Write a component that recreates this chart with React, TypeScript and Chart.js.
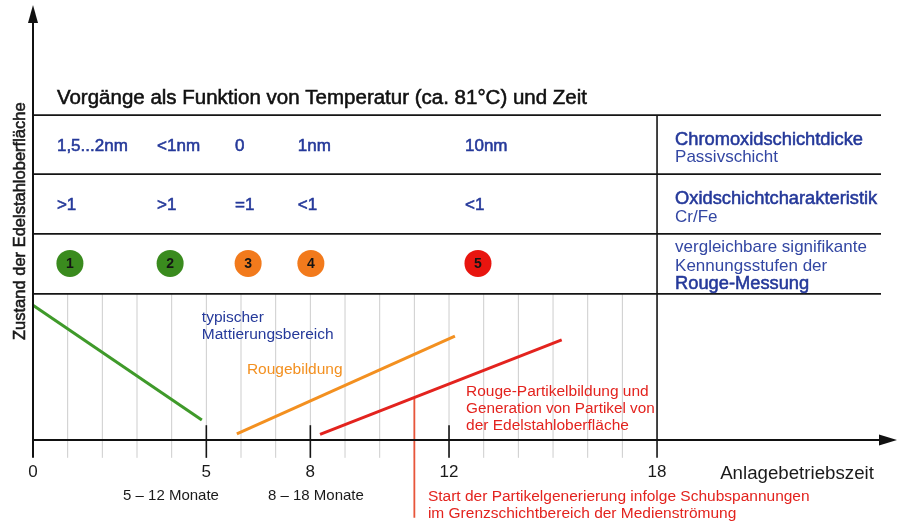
import React, { useEffect, useRef } from "react";
import { Chart, registerables } from "chart.js";

Chart.register(...registerables);

const W = 901;
const H = 524;
const FONT = '"Liberation Sans", Arial, Helvetica, sans-serif';

// ---------- data ----------
const timeTicks = [0, 5, 8, 12, 18];
const timeTickLabels = ["0", "5", "8", "12", "18"];
const gridMonths = [1, 2, 3, 4, 5, 6, 7, 8, 9, 10, 11, 12, 13, 14, 15, 16, 17];
const markedTicks = [5, 8, 12];

const stageColumns = [0.69, 3.58, 5.83, 7.64, 12.46];
const chromoxidThickness = ["1,5...2nm", "<1nm", "0", "1nm", "10nm"];
const crFeRatio = [">1", ">1", "=1", "<1", "<1"];
const rougeStages = ["1", "2", "3", "4", "5"];
const stageColors = ["#3a8b1e", "#3a8b1e", "#f27a1c", "#f27a1c", "#e8150f"];

const mattierungX = [0, 4.87];
const mattierungY = [31.0, 4.6];
const rougeX = [5.88, 12.17];
const rougeY = [1.4, 23.9];
const partikelX = [8.28, 15.25];
const partikelY = [1.3, 23.0];
const startX = [11, 11];
const startY = [9.6, -17.9];

const rowLines = [74.7, 61.1, 47.4, 33.6];

const toPts = (xs: number[], ys: number[]) => xs.map((x, i) => ({ x, y: ys[i] }));

// ---------- styles ----------
const BLUE = "#25399a";
const BLUE_LIGHT = "#3347a3";
const RED = "#e3231e";
const ORANGE = "#f39020";
const GREEN = "#3f9a2a";

function txt(
  ctx: CanvasRenderingContext2D,
  s: string,
  x: number,
  y: number,
  size: number,
  color: string,
  align: CanvasTextAlign = "left",
  medium = false
) {
  ctx.save();
  ctx.font = `${size}px ${FONT}`;
  ctx.fillStyle = color;
  ctx.textAlign = align;
  ctx.textBaseline = "middle";
  ctx.fillText(s, x, y);
  if (medium) {
    ctx.strokeStyle = color;
    ctx.lineWidth = 0.55;
    ctx.strokeText(s, x, y);
  }
  ctx.restore();
}

function line(ctx: CanvasRenderingContext2D, x1: number, y1: number, x2: number, y2: number, color: string, w: number) {
  ctx.save();
  ctx.strokeStyle = color;
  ctx.lineWidth = w;
  ctx.beginPath();
  ctx.moveTo(x1, y1);
  ctx.lineTo(x2, y2);
  ctx.stroke();
  ctx.restore();
}

const diagramPlugin = {
  id: "diagram",
  beforeDraw(chart: any) {
    const ctx = chart.ctx;
    ctx.save();
    ctx.fillStyle = "#ffffff";
    ctx.fillRect(0, 0, chart.width, chart.height);
    ctx.restore();
  },
  beforeDatasetsDraw(chart: any) {
    const ctx: CanvasRenderingContext2D = chart.ctx;
    const xs = chart.scales.x;
    const ys = chart.scales.y;
    const X = (v: number) => xs.getPixelForValue(v);
    const Y = (v: number) => ys.getPixelForValue(v);
    const area = chart.chartArea;

    gridMonths.forEach((m) => line(ctx, X(m), Y(rowLines[3]), X(m), Y(-4.1), "#cdcdcd", 1));
    rowLines.forEach((r) => line(ctx, X(0), Y(r), area.right, Y(r), "#151515", 1.8));
    line(ctx, X(18), Y(rowLines[0]), X(18), Y(-4.1), "#151515", 1.6);
    markedTicks.forEach((m) => line(ctx, X(m), Y(3.4), X(m), Y(-4.1), "#151515", 1.6));
  },
  afterDatasetsDraw(chart: any) {
    const ctx: CanvasRenderingContext2D = chart.ctx;
    const xs = chart.scales.x;
    const ys = chart.scales.y;
    const X = (v: number) => xs.getPixelForValue(v);
    const Y = (v: number) => ys.getPixelForValue(v);
    const area = chart.chartArea;

    // axes
    const x0 = X(0);
    const y0 = Y(0);
    line(ctx, x0, Y(-4.1), x0, area.top + 16, "#111", 2);
    line(ctx, x0, y0, area.right, y0, "#111", 2);
    ctx.save();
    ctx.fillStyle = "#111";
    ctx.beginPath();
    ctx.moveTo(x0, area.top);
    ctx.lineTo(x0 - 5, area.top + 18);
    ctx.lineTo(x0 + 5, area.top + 18);
    ctx.closePath();
    ctx.fill();
    ctx.beginPath();
    ctx.moveTo(area.right + 16, y0);
    ctx.lineTo(area.right - 2, y0 - 5.5);
    ctx.lineTo(area.right - 2, y0 + 5.5);
    ctx.closePath();
    ctx.fill();
    ctx.restore();

    // title
    txt(ctx, "Vorgänge als Funktion von Temperatur (ca. 81°C) und Zeit", X(0.69), Y(78.6), 20.5, "#111", "left", true);

    // rows
    chromoxidThickness.forEach((s, i) => txt(ctx, s, X(stageColumns[i]), Y(67.6), 17, BLUE, "left", true));
    crFeRatio.forEach((s, i) => txt(ctx, s, X(stageColumns[i]), Y(53.9), 17, BLUE, "left", true));
    rougeStages.forEach((s, i) => {
      const cx = X(stageColumns[i]) + 13;
      const cy = Y(40.6);
      ctx.save();
      ctx.fillStyle = stageColors[i];
      ctx.beginPath();
      ctx.arc(cx, cy, 13.5, 0, Math.PI * 2);
      ctx.fill();
      ctx.restore();
      ctx.save();
      ctx.font = `bold 14px ${FONT}`;
      ctx.fillStyle = "#141414";
      ctx.textAlign = "center";
      ctx.textBaseline = "middle";
      ctx.fillText(s, cx, cy + 1);
      ctx.restore();
    });

    // right column
    const rx = X(18.52);
    txt(ctx, "Chromoxidschichtdicke", rx, Y(69.0), 18.3, BLUE, "left", true);
    txt(ctx, "Passivschicht", rx, Y(65.1), 17, BLUE_LIGHT);
    txt(ctx, "Oxidschichtcharakteristik", rx, Y(55.4), 18.3, BLUE, "left", true);
    txt(ctx, "Cr/Fe", rx, Y(51.3), 17, BLUE_LIGHT);
    txt(ctx, "vergleichbare signifikante", rx, Y(44.4), 17, BLUE_LIGHT);
    txt(ctx, "Kennungsstufen der", rx, Y(40.0), 17, BLUE_LIGHT);
    txt(ctx, "Rouge-Messung", rx, Y(35.9), 18.3, BLUE, "left", true);

    // plot annotations
    txt(ctx, "typischer", X(4.87), Y(28.0), 15.5, BLUE);
    txt(ctx, "Mattierungsbereich", X(4.87), Y(24.1), 15.5, BLUE);
    txt(ctx, "Rougebildung", X(6.17), Y(16.1), 15.5, ORANGE);
    txt(ctx, "Rouge-Partikelbildung und", X(12.49), Y(11.0), 15.5, RED);
    txt(ctx, "Generation von Partikel von", X(12.49), Y(7.1), 15.3, RED);
    txt(ctx, "der Edelstahloberfläche", X(12.49), Y(3.2), 15.5, RED);

    // tick labels
    timeTicks.forEach((t, i) => txt(ctx, timeTickLabels[i], X(t), Y(-7.4), 17, "#1a1a1a", "center"));
    txt(ctx, "Anlagebetriebszeit", X(19.82), Y(-7.8), 18.7, "#1a1a1a", "left");
    txt(ctx, "5 – 12 Monate", X(3.98), Y(-12.8), 15, "#1a1a1a", "center");
    txt(ctx, "8 – 18 Monate", X(8.16), Y(-12.8), 15, "#1a1a1a", "center");
    txt(ctx, "Start der Partikelgenerierung infolge Schubspannungen", X(11.39), Y(-13.1), 15.5, RED);
    txt(ctx, "im Grenzschichtbereich der Medienströmung", X(11.39), Y(-17.0), 15.5, RED);

    // y axis title
    ctx.save();
    ctx.translate(X(-0.375), Y(50.3));
    ctx.rotate(-Math.PI / 2);
    txt(ctx, "Zustand der Edelstahloberfläche", 0, 0, 16.5, "#1a1a1a", "center", true);
    ctx.restore();
  },
};

export default function App() {
  const ref = useRef<HTMLCanvasElement | null>(null);
  useEffect(() => {
    if (!ref.current) return;
    const chart = new Chart(ref.current, {
      type: "line",
      data: {
        datasets: [
          { label: "Mattierung", data: toPts(mattierungX, mattierungY), borderColor: GREEN, borderWidth: 3, pointRadius: 0, clip: false } as any,
          { label: "Rougebildung", data: toPts(rougeX, rougeY), borderColor: ORANGE, borderWidth: 3, pointRadius: 0, clip: false } as any,
          { label: "Rouge-Partikelbildung", data: toPts(partikelX, partikelY), borderColor: RED, borderWidth: 3, pointRadius: 0, clip: false } as any,
          { label: "Start Partikelgenerierung", data: toPts(startX, startY), borderColor: "#e8553a", borderWidth: 1.8, pointRadius: 0, clip: false } as any,
        ],
      },
      options: {
        responsive: false,
        animation: false,
        devicePixelRatio: 1,
        layout: { padding: { left: 33, right: 20, top: 5, bottom: 84 } },
        scales: {
          x: { type: "linear", min: 0, max: 24.46, display: false },
          y: { type: "linear", min: 0, max: 100, display: false },
        },
        plugins: { legend: { display: false }, tooltip: { enabled: false }, title: { display: false } },
        events: [],
      },
      plugins: [diagramPlugin],
    });
    return () => chart.destroy();
  }, []);
  return (
    <div style={{ position: "fixed", left: 0, top: 0, width: W, height: H, background: "#fff" }}>
      <canvas ref={ref} width={W} height={H} style={{ width: W, height: H, display: "block" }} />
    </div>
  );
}
